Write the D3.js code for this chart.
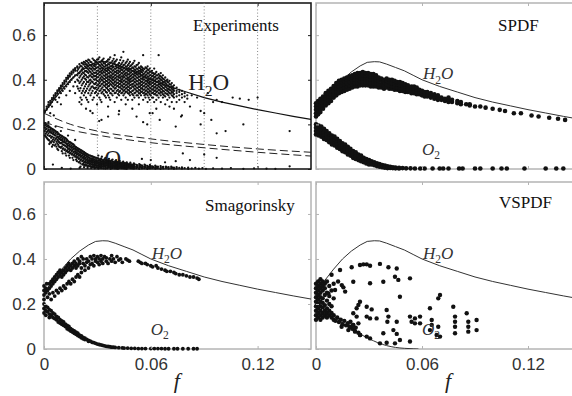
<!DOCTYPE html>
<html><head><meta charset="utf-8">
<script src="https://cdn.jsdelivr.net/npm/d3@7"></script>
<style>body{margin:0;background:#fff}svg{display:block}</style>
</head><body><svg id="c" width="572" height="396"></svg>
<script>
// ---------------- data ----------------
const xTickValues = [0, 0.06, 0.12];
const xTickLabels = ["0", "0.06", "0.12"];
const yTickValues = [0, 0.2, 0.4, 0.6];
const yTickLabels = ["0", "0.2", "0.4", "0.6"];
const gridF = [0.03, 0.06, 0.09, 0.12];
const panelTitles = ["Experiments", "SPDF", "Smagorinsky", "VSPDF"];

// equilibrium H2O curve (all panels)
const curveF   = [0, .005, .01, .015, .02, .025, .029, .033, .036, .04, .045, .05, .055, .06, .07, .08, .09, .10, .11, .12, .13, .14, .15];
const curveH2O = [.25, .305, .355, .40, .435, .462, .478, .481, .48, .47, .455, .44, .42, .40, .37, .345, .32, .30, .283, .266, .251, .236, .222];
// O2 curve (VSPDF panel)
const curveO2F = [0, .005, .01, .015, .02, .025, .03, .035, .04, .045, .05, .055, .058];
const curveO2  = [.20, .175, .145, .115, .088, .066, .046, .028, .015, .007, .003, .001, 0];
// dashed lines (Experiments panel)
const dashF     = [0, .015, .03, .06, .09, .12, .15];
const dashUpper = [.25, .20, .17, .135, .11, .09, .075];
const dashLower = [.21, .175, .152, .118, .095, .075, .058];

// Experiments: H2O scatter, columns [f, [values]]
const expH2Ocols = [
[.0005,[.262,.255]],[.0015,[.272,.28,.265]],[.0025,[.285,.29,.278,.30]],[.0035,[.296,.305,.288,.25]],
[.0045,[.31,.30,.318,.28]],[.0055,[.322,.315,.33,.24]],[.0065,[.335,.328,.34,.31]],[.0075,[.345,.338,.352,.30]],
[.0085,[.356,.35,.362,.32]],[.0095,[.368,.36,.374,.34,.29]],[.0105,[.378,.37,.385,.35]],[.0115,[.39,.382,.396,.36]],
[.0125,[.40,.392,.408,.37,.33]],[.0135,[.41,.404,.418,.38]],[.0145,[.42,.414,.428,.39,.35]],[.0155,[.43,.424,.436,.40]],
[.0165,[.44,.432,.445,.41,.37]],[.0175,[.447,.44,.452,.42,.39,.34]],[.0187,[.455,.46,.44,.42,.40,.37]],
[.0199,[.47,.455,.43,.41,.385,.35,.30]],[.0212,[.475,.46,.445,.425,.40,.375,.34,.31]],
[.0224,[.48,.468,.45,.43,.415,.39,.36,.33]],[.0236,[.485,.47,.455,.44,.42,.40,.38,.35,.32,.27]],
[.0249,[.49,.475,.46,.445,.43,.41,.39,.37,.34,.30]],[.0261,[.48,.465,.45,.435,.42,.40,.385,.36,.33]],
[.0273,[.495,.47,.455,.44,.425,.41,.39,.37,.35,.31,.25]],[.0286,[.485,.47,.46,.445,.43,.415,.40,.38,.36,.34]],
[.0298,[.49,.475,.455,.44,.425,.41,.395,.375,.355,.33,.29]],[.0311,[.50,.48,.465,.45,.435,.42,.40,.385,.37,.35,.32]],
[.0323,[.485,.47,.455,.44,.43,.415,.40,.38,.36,.34,.30,.22]],[.0335,[.495,.475,.46,.45,.435,.42,.405,.39,.375,.355,.335]],
[.0348,[.48,.465,.45,.44,.425,.41,.395,.38,.365,.345,.32]],[.0360,[.49,.47,.455,.445,.43,.415,.40,.385,.37,.355,.33,.28]],
[.0372,[.50,.475,.46,.45,.435,.42,.41,.395,.38,.36,.34,.31]],[.0385,[.485,.465,.455,.44,.425,.41,.40,.385,.37,.35,.33]],
[.0397,[.51,.48,.47,.45,.435,.42,.405,.39,.375,.36,.34,.30]],[.0409,[.49,.465,.455,.44,.43,.415,.40,.385,.37,.35,.32]],
[.0422,[.475,.46,.45,.435,.42,.41,.395,.38,.365,.345,.33,.26]],[.0434,[.50,.47,.455,.445,.43,.415,.40,.39,.375,.36,.34,.31]],
[.0446,[.525,.485,.465,.45,.435,.42,.41,.395,.38,.365,.35,.33]],[.0459,[.475,.46,.445,.43,.42,.405,.39,.375,.36,.345,.32,.29]],
[.0471,[.49,.465,.45,.44,.425,.41,.40,.385,.37,.355,.34,.31]],[.0483,[.48,.46,.445,.43,.415,.40,.39,.375,.36,.345,.33]],
[.0496,[.47,.455,.44,.425,.41,.395,.38,.37,.35,.335,.31,.27]],[.0508,[.485,.46,.445,.43,.42,.405,.39,.375,.36,.34,.32]],
[.0520,[.465,.45,.435,.425,.41,.395,.38,.365,.35,.33,.235]],[.0533,[.475,.455,.44,.43,.415,.40,.385,.37,.355,.34,.32,.29]],
[.0545,[.46,.445,.435,.42,.405,.39,.375,.36,.345,.33]],[.0557,[.51,.45,.44,.425,.41,.40,.385,.37,.355,.34,.31,.21]],
[.0570,[.455,.435,.42,.41,.395,.38,.365,.35,.335,.32]],[.0582,[.46,.445,.43,.415,.40,.39,.375,.36,.345,.33,.30]],
[.0594,[.45,.435,.42,.405,.39,.38,.365,.35,.335,.31,.25]],[.0607,[.44,.43,.415,.40,.385,.37,.355,.34,.32]],
[.0619,[.45,.425,.41,.395,.38,.365,.35,.335,.30]],[.0631,[.435,.42,.405,.39,.375,.36,.345,.33,.31,.27]],
[.0644,[.51,.425,.41,.395,.38,.37,.355,.34,.32]],[.0656,[.43,.415,.40,.385,.375,.36,.345,.33,.30]],
[.0668,[.42,.405,.39,.38,.365,.35,.335,.32]],[.0681,[.41,.395,.385,.37,.355,.34,.325,.29]],
[.0693,[.40,.39,.375,.36,.35,.335,.31]],[.0705,[.395,.38,.365,.355,.34,.32,.28]],
[.0718,[.385,.37,.36,.345,.33,.30]],[.0730,[.375,.36,.35,.335,.32,.27]],[.0745,[.365,.35,.34,.325,.30]],
[.0760,[.355,.345,.33,.31]],[.0775,[.35,.335,.32,.24]],[.0790,[.34,.325,.30]],[.0805,[.33,.315]]
];
// Experiments: further H2O samples lying between the columns above
const expH2Ocols2 = [
[.0192,[.448,.428,.395,.36]],[.0205,[.462,.437,.418,.392,.362,.32]],[.0218,[.472,.452,.433,.408,.383,.35]],
[.0230,[.476,.46,.438,.423,.405,.37,.342]],[.0242,[.482,.465,.451,.435,.412,.39,.36,.31]],
[.0255,[.487,.468,.452,.438,.418,.397,.378,.352]],[.0267,[.478,.462,.447,.428,.413,.393,.368,.34]],
[.0280,[.488,.463,.449,.432,.418,.402,.383,.363,.32]],[.0292,[.481,.467,.452,.433,.417,.403,.386,.365,.345]],
[.0305,[.492,.471,.457,.442,.428,.412,.393,.378,.362,.338]],[.0317,[.478,.462,.449,.436,.423,.407,.392,.373,.352,.31]],
[.0329,[.489,.466,.452,.443,.428,.411,.397,.383,.366,.346]],[.0342,[.472,.458,.444,.432,.417,.403,.388,.372,.353,.328]],
[.0354,[.483,.463,.451,.438,.422,.408,.393,.378,.362,.342]],[.0366,[.491,.468,.453,.441,.428,.413,.402,.388,.372,.35,.32]],
[.0379,[.478,.461,.447,.432,.418,.405,.391,.377,.358,.338]],[.0391,[.494,.473,.458,.443,.428,.413,.398,.382,.367,.35]],
[.0403,[.483,.461,.449,.435,.422,.408,.393,.378,.362,.341]],[.0416,[.469,.455,.442,.428,.414,.402,.387,.372,.355,.336]],
[.0428,[.488,.463,.451,.438,.423,.408,.394,.382,.367,.35]],[.0440,[.477,.458,.443,.428,.414,.403,.388,.372,.357,.342]],
[.0452,[.468,.452,.438,.425,.412,.397,.382,.368,.353,.338]],[.0465,[.481,.458,.446,.432,.418,.405,.392,.378,.363,.347]],
[.0477,[.472,.452,.438,.423,.408,.395,.382,.367,.352,.337]],[.0489,[.464,.449,.434,.419,.405,.392,.378,.362,.343]],
[.0502,[.476,.452,.437,.423,.412,.398,.383,.368,.352,.33]],[.0514,[.458,.443,.43,.417,.402,.388,.372,.357,.342]],
[.0527,[.468,.448,.436,.422,.408,.393,.378,.363,.347,.33]],[.0539,[.452,.44,.428,.413,.397,.382,.368,.352,.338]],
[.0551,[.455,.444,.433,.418,.405,.392,.378,.362,.347]],[.0564,[.448,.428,.414,.402,.388,.373,.357,.342,.33]],
[.0576,[.452,.438,.423,.408,.395,.382,.368,.352,.337]],[.0588,[.443,.428,.413,.398,.385,.372,.357,.342,.32]],
[.0600,[.436,.421,.407,.392,.378,.362,.347,.33]],[.0613,[.43,.418,.403,.388,.373,.358,.342,.32]],
[.0625,[.428,.413,.398,.382,.368,.352,.337]],[.0637,[.42,.405,.39,.375,.362,.348,.33]],
[.0650,[.418,.405,.392,.38,.366,.352,.338]],[.0662,[.41,.397,.384,.371,.357,.342]],
[.0674,[.402,.39,.377,.362,.347,.33]],[.0687,[.396,.38,.366,.352,.338]],[.0699,[.388,.372,.358,.345,.33]],
[.0712,[.378,.366,.352,.338]],[.0724,[.368,.355,.342,.326]]
];
const expH2Osparse = [[.083,.33],[.086,.32],[.088,.26],[.090,.25],[.092,.34],[.095,.30],[.097,.31],[.100,.30],[.106,.32],[.110,.315],[.115,.31],[.120,.32],[.112,.20],[.097,.16],[.102,.17],[.138,.17],[.094,.22],[.082,.28],[.061,.25],[.065,.22],[.077,.235],[.042,.245],[.036,.235],[.021,.29],[.026,.26],[.031,.215],[.074,.19],[.058,.20],[.088,.20]];

// Experiments: O2 scatter
const expO2cols = [
[.0005,[.205,.195,.185,.17,.15]],[.0015,[.20,.19,.18,.165,.14]],[.0025,[.195,.185,.175,.16,.13,.21]],
[.0035,[.185,.175,.165,.15,.12]],[.0045,[.18,.17,.16,.145,.125,.10]],[.0055,[.175,.165,.155,.14,.12]],
[.0065,[.17,.16,.15,.135,.11,.19]],[.0075,[.165,.155,.145,.13,.115,.09]],[.0085,[.155,.145,.135,.12,.10]],
[.0095,[.15,.14,.13,.115,.095,.17]],[.0105,[.145,.135,.125,.11,.09,.07]],[.0115,[.14,.13,.12,.105,.085]],
[.0125,[.135,.125,.115,.10,.08,.06]],[.0135,[.125,.115,.105,.09,.075,.15]],[.0145,[.12,.11,.10,.085,.07,.05]],
[.0155,[.115,.105,.095,.08,.065]],[.0165,[.11,.10,.09,.075,.06,.04]],[.0175,[.10,.09,.08,.07,.055,.13]],
[.0185,[.095,.085,.075,.065,.05,.035]],[.0195,[.09,.08,.07,.06,.045,.03]],[.0205,[.085,.075,.065,.055,.04,.025,.01]],
[.0215,[.08,.07,.06,.05,.035,.02]],[.0225,[.075,.065,.055,.045,.03,.018,.008]],[.0235,[.07,.06,.05,.04,.028,.015]],
[.0245,[.065,.055,.045,.035,.025,.012,.005]],[.0255,[.06,.05,.04,.032,.022,.012]],[.0265,[.058,.048,.038,.03,.02,.01,.004]],
[.0275,[.055,.045,.036,.028,.018,.009]],[.0285,[.052,.043,.034,.026,.017,.008,.003]],[.0295,[.05,.04,.032,.024,.016,.008]],
[.0305,[.06,.047,.038,.03,.022,.014,.006,.002]],[.0315,[.044,.036,.028,.02,.012,.005]],[.0325,[.055,.042,.034,.026,.019,.011,.004]],
[.0335,[.04,.032,.025,.018,.01,.003]],[.0345,[.05,.038,.03,.023,.016,.009,.002]],[.0355,[.036,.029,.022,.015,.008,.003]],
[.0365,[.045,.035,.027,.02,.013,.006]],[.0375,[.033,.026,.019,.012,.005,.001]],[.0385,[.042,.032,.024,.017,.01,.004]],
[.0395,[.03,.023,.016,.009,.003]],[.0405,[.04,.029,.021,.014,.007,.002]],[.0415,[.028,.02,.013,.006,.001]],
[.0425,[.036,.026,.019,.012,.005]],[.0435,[.025,.018,.011,.004]],[.0445,[.033,.024,.016,.009,.003]],
[.0455,[.022,.015,.008,.002]],[.0465,[.03,.021,.014,.007,.001]],[.0475,[.02,.013,.006]],[.0485,[.028,.018,.011,.004]],
[.0495,[.017,.01,.003]],[.0505,[.025,.015,.008,.002]],[.052,[.018,.01,.004]],[.0535,[.022,.013,.006,.001]],
[.055,[.016,.008,.003]],[.0565,[.02,.011,.004]],[.058,[.014,.006,.001]],[.0595,[.018,.009,.003]],[.061,[.012,.005]],
[.0625,[.015,.007,.002]],[.064,[.01,.004]],[.0655,[.013,.006,.001]],[.067,[.009,.003]],[.0685,[.011,.005]],
[.070,[.008,.002]],[.0715,[.01,.004]],[.073,[.006,.001]],[.0745,[.008,.003]],[.076,[.005]],[.0775,[.007,.002]],
[.079,[.004]],[.081,[.006,.001]],[.083,[.003]],[.085,[.005]],[.087,[.002]],[.089,[.004]],[.091,[.001]]
];
// Experiments: further O2 samples lying between the columns above
const expO2cols2 = [
[.001,[.199,.178,.158,.145]],[.002,[.192,.17,.152,.135]],[.003,[.188,.168,.148,.128,.112]],[.004,[.182,.162,.14,.118]],
[.005,[.177,.158,.132,.108]],[.006,[.172,.152,.128,.105]],[.007,[.165,.14,.122,.10]],[.008,[.16,.14,.125,.108,.085]],
[.009,[.152,.133,.117,.098]],[.010,[.148,.13,.118,.10,.08]],[.011,[.142,.122,.108,.092]],[.012,[.138,.118,.105,.088,.07]],
[.013,[.13,.11,.098,.082]],[.014,[.122,.105,.092,.078,.06]],[.015,[.118,.10,.088,.072]],[.016,[.112,.097,.084,.068,.05]],
[.017,[.106,.092,.078,.063]],[.018,[.098,.087,.072,.058,.042]],[.019,[.092,.082,.067,.053]],[.020,[.088,.076,.062,.048,.033]],
[.021,[.083,.072,.058,.043]],[.022,[.078,.066,.052,.038,.024]],[.023,[.072,.062,.048,.034,.02]],[.024,[.067,.057,.042,.03,.017]],
[.025,[.062,.052,.038,.028,.015]],[.026,[.06,.046,.035,.025,.013]],[.027,[.056,.042,.032,.022,.01]],[.028,[.053,.04,.03,.02,.01]],
[.029,[.05,.037,.028,.018,.007]],[.030,[.048,.034,.026,.016,.007]],[.031,[.04,.03,.022,.013]],[.032,[.046,.032,.023,.015,.008]],
[.033,[.036,.028,.02,.012]],[.034,[.044,.034,.026,.018,.011]],[.035,[.04,.031,.024,.016]],[.036,[.039,.03,.022,.015,.008]],
[.037,[.036,.028,.02,.013]],[.038,[.038,.026,.019,.012,.006]],[.039,[.032,.024,.016,.01]],[.040,[.035,.025,.017,.011,.005]],
[.041,[.032,.023,.015,.009]],[.042,[.03,.022,.015,.008]],[.043,[.028,.02,.013,.007]],[.044,[.029,.02,.012,.006]],
[.045,[.026,.018,.011,.005]],[.046,[.025,.017,.01,.004]],[.047,[.024,.016,.009]],[.048,[.022,.014,.007]],
[.049,[.021,.013,.006]],[.050,[.019,.012,.005]],[.051,[.021,.011,.005]],[.0525,[.016,.008]],[.054,[.018,.009]],
[.0555,[.012,.005]],[.057,[.016,.008]],[.0585,[.01,.004]],[.060,[.013,.006]],[.0615,[.008]],[.063,[.011,.004]],
[.0665,[.008]],[.069,[.007]],[.072,[.006]]
];
const expO2sparse = [[.095,.003],[.10,.002],[.105,.004],[.112,.001],[.118,.003],[.125,.002],[.13,.001],[.138,.012],[.097,.05],[.09,.065],[.078,.07],[.082,.04],[.074,.035],[.068,.03],[.06,.04],[.055,.045],[.015,.002],[.01,.005],[.005,.02],[.02,.005]];

// SPDF
const spdfH2Ocols = [
[0,[.235,.25,.265,.28,.295]],[.0012,[.245,.26,.275,.29,.305]],[.0025,[.255,.27,.285,.30,.315]],
[.004,[.27,.285,.30,.315,.325]],[.0055,[.285,.30,.315,.33,.34]],[.007,[.295,.31,.325,.34,.35]],
[.0085,[.305,.32,.335,.35,.36]],[.010,[.32,.335,.35,.365,.372]],[.0115,[.33,.345,.36,.375,.385]],
[.013,[.34,.355,.37,.385,.395]],[.0145,[.345,.36,.375,.39,.40]],[.016,[.35,.365,.38,.395,.405]],
[.0175,[.355,.37,.385,.40,.41]],[.019,[.36,.375,.39,.405,.415]],[.0205,[.365,.38,.395,.41,.42]],
[.022,[.37,.385,.40,.415,.425]],[.0235,[.37,.385,.40,.415,.43]],[.025,[.375,.39,.405,.42,.43]],
[.0265,[.375,.39,.405,.42,.435]],[.028,[.375,.39,.405,.42,.43]],[.0295,[.375,.39,.405,.42,.43]],
[.031,[.37,.385,.40,.415,.425]],[.0325,[.37,.385,.40,.415,.425]],[.034,[.37,.385,.40,.41,.42]],
[.0355,[.365,.38,.395,.41]],[.037,[.365,.38,.395,.405]],[.0385,[.36,.375,.39,.40]],
[.040,[.365,.38,.395,.405]],[.0415,[.36,.375,.39,.40]],[.043,[.36,.37,.385,.40]],[.0445,[.355,.37,.38,.395]],
[.046,[.355,.365,.38,.39]],[.0475,[.35,.365,.375,.39]],[.049,[.35,.36,.375,.385]],[.0505,[.345,.355,.37,.38]],
[.052,[.345,.355,.365,.375]],[.054,[.34,.35,.36,.37]],[.0555,[.34,.35,.36,.37]],[.057,[.335,.345,.355,.365]],
[.0585,[.335,.345,.355]],[.060,[.33,.34,.35]],[.0615,[.325,.335,.345]],[.063,[.325,.335,.345]],
[.065,[.32,.33,.34]],[.067,[.315,.325,.335]],[.069,[.31,.32,.33]],[.071,[.31,.32]],[.073,[.305,.315]],
[.075,[.30,.31,.32]],[.077,[.30,.31]],[.080,[.295,.305]],[.082,[.29,.30]],[.085,[.29]],[.087,[.285,.29]],
[.090,[.28]],[.093,[.28]],[.096,[.275]],[.100,[.27]],[.104,[.265]],[.107,[.26]],[.112,[.25]],[.116,[.25]],
[.122,[.24]],[.126,[.235]],[.132,[.23]],[.137,[.225]],[.141,[.22]]
];
const spdfO2cols = [
[0,[.20,.185,.17,.155]],[.0015,[.195,.18,.165,.15]],[.003,[.19,.175,.16,.145]],[.0045,[.18,.165,.15,.135]],
[.006,[.17,.155,.14,.13]],[.0075,[.16,.145,.135,.12]],[.009,[.15,.14,.125,.11]],[.0105,[.145,.13,.115,.105]],
[.012,[.135,.12,.11,.095]],[.0135,[.125,.115,.10,.09]],[.015,[.115,.105,.09,.08]],[.0165,[.11,.095,.085,.075]],
[.018,[.10,.09,.08,.065]],[.0195,[.09,.08,.07,.06]],[.021,[.08,.07,.06,.05]],[.0225,[.075,.065,.055,.045]],
[.024,[.065,.055,.045,.04]],[.0255,[.06,.05,.04,.035]],[.027,[.05,.043,.035,.03]],[.0285,[.045,.037,.03,.025]],
[.030,[.04,.032,.025,.02]],[.0315,[.035,.028,.02]],[.033,[.03,.023,.017]],[.0345,[.025,.018,.013]],
[.036,[.022,.015,.01]],[.0375,[.018,.012,.008]],[.039,[.015,.01,.006]],[.0405,[.012,.008,.004]],
[.042,[.01,.005]],[.0435,[.008,.004]],[.045,[.006,.003]],[.047,[.005,.002]],[.049,[.004]],[.051,[.003]],
[.0535,[.003]],[.056,[.002]],[.059,[.002]],[.0615,[.002]],[.066,[.002]],[.070,[.002]],[.072,[.002]],
[.075,[.002]],[.081,[.002]],[.083,[.002]],[.090,[.002]],[.093,[.002]],[.100,[.002]],[.105,[.002]],
[.108,[.002]],[.118,[.002]],[.130,[.002]],[.136,[.002]],[.140,[.002]]
];

// Smagorinsky
const smagH2O = [[0,.22],[0,.24],[0,.26],[0,.28],[.001,.25],[.001,.27],[.0015,.29],[.002,.23],[.002,.26],[.003,.27],[.003,.29],[.003,.245],[.004,.28],[.004,.30],[.004,.22],[.005,.29],[.005,.31],[.005,.25],[.006,.30],[.006,.32],[.006,.235],[.007,.31],[.007,.33],[.007,.26],[.008,.32],[.008,.34],[.008,.25],[.009,.33],[.009,.35],[.009,.27],[.010,.34],[.010,.32],[.010,.26],[.011,.35],[.011,.33],[.011,.28],[.012,.36],[.012,.34],[.012,.27],[.013,.35],[.013,.37],[.013,.29],[.014,.36],[.014,.38],[.014,.30],[.015,.37],[.015,.35],[.015,.29],[.016,.38],[.016,.36],[.016,.31],[.017,.39],[.017,.37],[.017,.30],[.018,.38],[.018,.36],[.018,.32],[.019,.40],[.019,.37],[.019,.33],[.020,.39],[.020,.38],[.020,.32],[.021,.41],[.021,.36],[.021,.34],[.022,.40],[.022,.38],[.023,.37],[.023,.35],[.024,.40],[.024,.385],[.025,.39],[.025,.36],[.026,.41],[.026,.375],[.027,.40],[.027,.38],[.028,.415],[.028,.37],[.029,.39],[.029,.40],[.030,.385],[.030,.41],[.031,.40],[.031,.375],[.032,.415],[.032,.39],[.033,.40],[.033,.38],[.034,.41],[.035,.39],[.035,.405],[.036,.38],[.037,.40],[.038,.415],[.038,.39],[.039,.40],[.040,.385],[.041,.41],[.042,.395],[.043,.40],[.044,.385],[.046,.40],[.047,.395],[.048,.39],[.053,.39],[.054,.385],[.055,.38],[.057,.38],[.058,.375],[.060,.37],[.061,.365],[.063,.37],[.064,.36],[.066,.355],[.068,.35],[.069,.345],[.071,.345],[.073,.34],[.074,.335],[.076,.33],[.078,.33],[.080,.325],[.082,.32],[.084,.32],[.086,.315],[.087,.31]];
const smagO2 = [[0,.20],[0,.18],[0,.16],[.001,.19],[.001,.17],[.001,.15],[.002,.185],[.002,.165],[.003,.175],[.003,.155],[.003,.14],[.004,.17],[.004,.15],[.005,.16],[.005,.14],[.006,.155],[.006,.135],[.007,.145],[.007,.13],[.008,.14],[.008,.12],[.009,.13],[.009,.115],[.010,.125],[.010,.11],[.011,.12],[.011,.105],[.012,.11],[.012,.10],[.013,.105],[.013,.09],[.014,.10],[.014,.085],[.015,.09],[.015,.08],[.016,.085],[.016,.075],[.017,.08],[.017,.07],[.018,.075],[.018,.065],[.019,.07],[.019,.06],[.020,.062],[.020,.055],[.021,.058],[.021,.05],[.022,.052],[.022,.045],[.023,.048],[.023,.042],[.024,.043],[.025,.038],[.025,.034],[.026,.035],[.027,.03],[.028,.028],[.029,.025],[.030,.022],[.031,.02],[.032,.018],[.033,.016],[.034,.014],[.035,.012],[.036,.011],[.037,.01],[.038,.008],[.039,.008],[.040,.007],[.042,.006],[.044,.005],[.045,.004],[.047,.004],[.049,.003],[.051,.003],[.053,.002],[.055,.002],[.057,.002],[.060,.002],[.062,.002],[.064,.002],[.066,.002],[.068,.001],[.070,.001],[.073,.001],[.075,.001],[.078,.001],[.081,.001],[.084,.001],[.086,.001]];

// VSPDF
const vspdfPts = [
[0,.13],[0,.15],[0,.17],[0,.19],[0,.21],[0,.23],[0,.25],[0,.27],[0,.29],
[.0012,.14],[.0012,.16],[.0012,.18],[.0012,.20],[.0012,.22],[.0012,.24],[.0012,.26],[.0012,.28],[.0012,.30],
[.0025,.13],[.0025,.15],[.0025,.17],[.0025,.19],[.0025,.21],[.0025,.23],[.0025,.25],[.0025,.27],[.0025,.29],[.0025,.31],
[.0038,.14],[.0038,.16],[.0038,.185],[.0038,.205],[.0038,.225],[.0038,.26],[.0038,.28],[.0038,.30],
[.005,.15],[.005,.17],[.005,.195],[.005,.24],[.005,.27],[.005,.29],
[.0062,.14],[.0062,.16],[.0062,.18],[.0062,.215],[.0062,.25],[.0062,.30],
[.0075,.15],[.0075,.17],[.0075,.20],[.0075,.235],[.0075,.28],
[.0088,.14],[.0088,.16],[.0088,.19],[.0088,.26],[.0088,.33],
[.010,.13],[.010,.15],[.010,.225],[.010,.29],
[.011,.125],[.012,.14],[.013,.12],[.014,.13],[.015,.11],[.016,.125],[.017,.105],[.018,.115],[.019,.099],[.0195,.121],[.0205,.09],[.021,.107],[.022,.08],[.0225,.095],[.024,.072],[.025,.062],[.0145,.099],[.0183,.084],[.0221,.077],
[.007,.247],[.0108,.262],[.0136,.351],[.0146,.284],[.0155,.274],[.0125,.30],[.0165,.255],
[.0202,.363],[.0249,.373],[.0268,.376],[.0287,.376],[.0306,.370],[.0362,.378],[.041,.363],[.0457,.358],[.0211,.299],[.0306,.292],[.0381,.299],[.0447,.321],[.0466,.307],[.0532,.314],[.0475,.232],[.0702,.240],[.0692,.225],
[.0249,.21],[.024,.196],[.023,.181],[.0287,.188],[.0315,.176],[.0287,.144],[.0306,.136],[.023,.144],[.0211,.159],[.024,.114],[.0211,.107],[.0192,.099],[.0343,.136],[.040,.173],[.041,.144],[.0404,.121],[.0457,.121],[.0438,.084],[.0381,.07],[.0457,.067],[.0475,.04],[.0532,.033],[.0362,.025],[.040,.028],[.0447,.025],[.0287,.055],[.0306,.047],[.0249,.062],
[.0532,.144],[.056,.136],[.0589,.144],[.0541,.121],[.056,.114],[.0589,.114],[.0645,.181],[.0655,.129],[.0655,.107],[.0645,.084],[.0692,.099],[.0683,.062],[.0702,.055],[.0777,.188],[.0787,.144],[.0787,.121],[.0787,.099],[.0787,.07],[.0853,.159],[.0862,.121],[.0862,.099],[.0862,.077],[.0909,.129],[.0909,.084]
];

// ---------------- drawing ----------------
const svg = d3.select("#c");
svg.append("rect").attr("width", 572).attr("height", 396).attr("fill", "#fff");

const xL = d3.scaleLinear().domain([0, 0.15]).range([44, 311]);
const xR = d3.scaleLinear().domain([0, 0.15]).range([316, 581]);
const yT = d3.scaleLinear().domain([0, 0.744]).range([169, 3]);
const yB = d3.scaleLinear().domain([0, 0.742]).range([349, 182]);

const flat = cols => cols.flatMap(([f, vs]) => vs.map(v => [f, v]));
const zipXY = (xs, ys) => xs.map((x, i) => [x, ys[i]]);

const SANS = "'Liberation Sans', Arial, sans-serif";
const SERIF = "'Liberation Serif', 'Times New Roman', serif";

function label(g, x, y, base, sub, tail, size, italic, fill) {
  const t = g.append("text").attr("x", x).attr("y", y)
    .attr("font-family", SERIF).attr("font-size", size)
    .attr("font-style", italic ? "italic" : "normal").attr("fill", fill);
  t.append("tspan").text(base);
  t.append("tspan").attr("dy", size * 0.25).attr("font-size", size * 0.68).attr("font-style", "normal").text(sub);
  if (tail) t.append("tspan").attr("dy", -size * 0.25).text(tail);
  return t;
}

const panels = [
  {key: "exp", x: xL, y: yT, frame: "#1b1b1b", fw: 1.6, yLab: true, xLab: false, title: panelTitles[0], tx: 193, ty: 31,
   dots: [...flat(expH2Ocols), ...flat(expH2Ocols2), ...expH2Osparse, ...flat(expO2cols), ...flat(expO2cols2), ...expO2sparse], r: 1.15},
  {key: "spdf", x: xR, y: yT, frame: "#b4b4b4", fw: 1.5, yLab: false, xLab: false, title: panelTitles[1], tx: 498, ty: 31,
   dots: [...flat(spdfH2Ocols), ...flat(spdfO2cols)], r: 2.3},
  {key: "smag", x: xL, y: yB, frame: "#b4b4b4", fw: 1.5, yLab: true, xLab: true, title: panelTitles[2], tx: 205, ty: 211,
   dots: [...smagH2O, ...smagO2], r: 1.9},
  {key: "vspdf", x: xR, y: yB, frame: "#b4b4b4", fw: 1.5, yLab: false, xLab: true, title: panelTitles[3], tx: 499, ty: 208,
   dots: vspdfPts, r: 2.2}
];

panels.forEach(p => {
  const {x, y} = p;
  const [x0, x1] = x.range(), [yb, yt] = y.range();
  const g = svg.append("g");
  svg.append("clipPath").attr("id", "clip-" + p.key)
    .append("rect").attr("x", x0).attr("y", yt).attr("width", x1 - x0).attr("height", yb - yt);

  g.append("rect").attr("x", x0).attr("y", yt).attr("width", x1 - x0).attr("height", yb - yt)
    .attr("fill", "none").attr("stroke", p.frame).attr("stroke-width", p.fw);

  const lines = g.append("g").attr("clip-path", `url(#clip-${p.key})`);
  const line = d3.line().x(d => x(d[0])).y(d => y(d[1]));
  const smooth = d3.line().x(d => x(d[0])).y(d => y(d[1])).curve(d3.curveMonotoneX);

  if (p.key === "exp") {
    lines.selectAll("line.grid").data(gridF).join("line").attr("class", "grid")
      .attr("x1", d => x(d)).attr("x2", d => x(d)).attr("y1", yt).attr("y2", yb)
      .attr("stroke", "#777").attr("stroke-width", 0.9).attr("stroke-dasharray", "1,2.2");
    [dashUpper, dashLower].forEach(ds => {
      lines.append("path").attr("d", smooth(zipXY(dashF, ds))).attr("fill", "none")
        .attr("stroke", "#222").attr("stroke-width", 1).attr("stroke-dasharray", "8,4");
    });
    label(lines, x(0.034), y(0.012), "O", "2", "", 23, false, "#222");
  }
  lines.append("path").attr("d", line(zipXY(curveF, curveH2O))).attr("fill", "none")
    .attr("stroke", p.key === "exp" ? "#111" : "#333").attr("stroke-width", p.key === "exp" ? 1.2 : 1);
  if (p.key === "vspdf") {
    lines.append("path").attr("d", smooth(zipXY(curveO2F, curveO2))).attr("fill", "none")
      .attr("stroke", "#333").attr("stroke-width", 1);
  }

  g.append("g").selectAll("circle").data(p.dots).join("circle")
    .attr("cx", d => x(d[0])).attr("cy", d => y(d[1])).attr("r", p.r).attr("fill", "#111");

  if (p.key === "exp") {
    label(g, x(0.081), y(0.354), "H", "2", "O", 23, false, "#222");
  } else {
    label(g, x(0.0605), y(0.402), "H", "2", "O", 17, true, "#333");
    label(g, x(0.06), y(0.062), "O", "2", "", 17, true, "#333");
  }

  g.append("text").attr("x", p.tx).attr("y", p.ty).attr("font-family", SERIF).attr("font-size", 17)
    .attr("fill", "#111").text(p.title);

  // ticks
  const tickCol = p.frame;
  const ax = [];
  ax.push(g.append("g").attr("transform", `translate(${x0},0)`)
    .call(d3.axisLeft(y).tickValues(yTickValues).tickSize(-3).tickPadding(8)
      .tickFormat((d, i) => p.yLab ? yTickLabels[i] : "")));
  ax.push(g.append("g").attr("transform", `translate(${x1},0)`)
    .call(d3.axisRight(y).tickValues(yTickValues).tickSize(-3).tickFormat("")));
  ax.push(g.append("g").attr("transform", `translate(0,${yb})`)
    .call(d3.axisBottom(x).tickValues(xTickValues).tickSize(-3).tickPadding(9)
      .tickFormat((d, i) => p.xLab ? xTickLabels[i] : "")));
  ax.push(g.append("g").attr("transform", `translate(0,${yt})`)
    .call(d3.axisTop(x).tickValues(xTickValues).tickSize(-3).tickFormat("")));
  ax.forEach(a => {
    a.select(".domain").remove();
    a.selectAll(".tick line").attr("stroke", tickCol).attr("stroke-width", 1);
    a.selectAll("text").attr("font-family", SANS).attr("font-size", 17).attr("fill", "#333");
  });

  if (p.xLab) {
    g.append("text").attr("x", x(0.06) + 26).attr("y", 388).attr("text-anchor", "middle")
      .attr("font-family", SERIF).attr("font-style", "italic").attr("font-size", 22).attr("fill", "#222").text("f");
  }
});
</script>
</body></html>
